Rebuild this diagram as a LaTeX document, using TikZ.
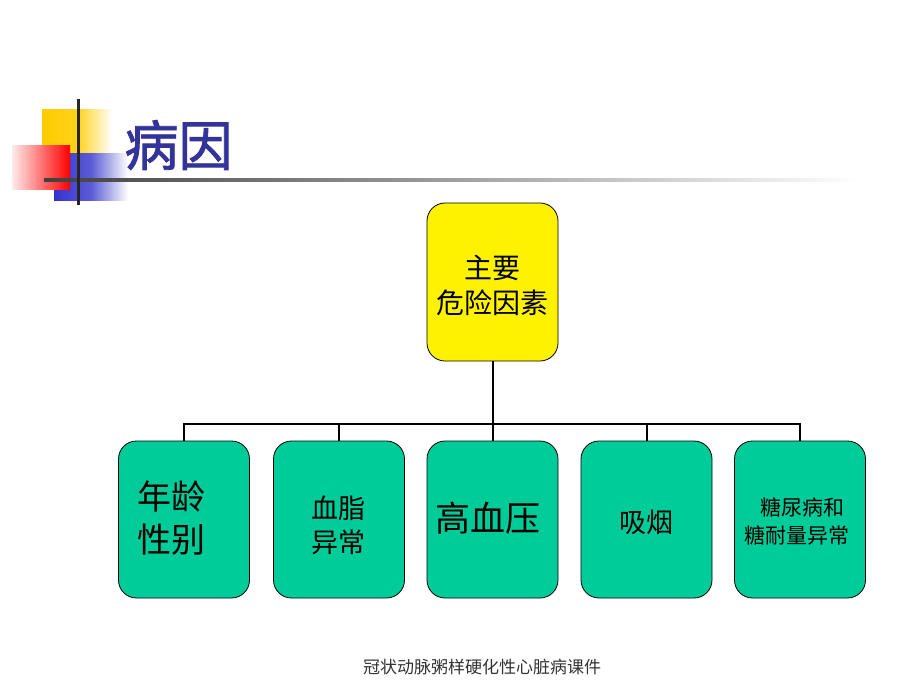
\documentclass[tikz,border=0pt]{standalone}
\usepackage{fontspec}
\newfontfamily\cjk[AutoFakeBold=1.6]{Noto Sans CJK SC}
\definecolor{titleblue}{HTML}{333399}
\definecolor{boxgreen}{HTML}{00CC99}
\definecolor{decoyellow}{HTML}{FFCC00}
\definecolor{decoblue}{HTML}{3333CC}
\tikzset{
  rbox/.style={draw=black, line width=0.8pt, rounded corners=18pt, minimum width=131pt, minimum height=157pt, inner sep=0pt},
  topbox/.style={rbox, fill=yellow, minimum height=158pt},
  leafbox/.style={rbox, fill=boxgreen},
  conn/.style={draw=black, line width=2pt},
  lbl/.style={align=center, text=black}
}
\begin{document}
\begin{tikzpicture}[x=1pt,y=-1pt]
\useasboundingbox (0,0) rectangle (920,690);
\fill[white] (0,0) rectangle (920,690);
% decoration
\shade[left color=decoyellow, right color=white, middle color=decoyellow!90] (42,110) rectangle (112,153);
\shade[left color=decoblue, right color=white, middle color=decoblue!80!white] (54,153) rectangle (128,200);
\shade[left color=red!8!white, right color=red] (12,145) rectangle (70,189);
\shade[left color=black!75, right color=white] (44,178.5) rectangle (862,181.5);
\fill[black!85] (77,99) rectangle (79.5,205);
% title
\node[font=\cjk\bfseries\fontsize{54}{60}\selectfont, text=titleblue, anchor=west] (title) at (121,145) {病因};
% boxes
\node[topbox] (top) at (492.5,282) {};
\node[lbl, font=\cjk\fontsize{28}{35}\selectfont] (toplbl) at (492.5,285) {主要\\危险因素};
\node[leafbox] (b1) at (184,519.5) {};
\node[leafbox] (b2) at (339,519.5) {};
\node[leafbox] (b3) at (492.5,519.5) {};
\node[leafbox] (b4) at (646.5,519.5) {};
\node[leafbox] (b5) at (800,519.5) {};
\node[lbl, font=\cjk\fontsize{34}{43}\selectfont, align=left] (t1) at (171,518) {年龄\\性别};
\node[lbl, font=\cjk\fontsize{27}{34}\selectfont] (t2) at (338,525) {血脂\\异常};
\node[lbl, font=\cjk\fontsize{35}{40}\selectfont] (t3) at (488,518) {高血压};
\node[lbl, font=\cjk\fontsize{27}{34}\selectfont] (t4) at (646,522) {吸烟};
\node[lbl, font=\cjk\fontsize{21}{28}\selectfont] (t5) at (797,522) {\hspace*{0.5em}糖尿病和\\糖耐量异常};
% connectors
\coordinate (bus) at (492.5,424);
\draw[conn] (top.south) -- (bus);
\draw[conn] (b1.north) -- (b1.north |- bus) -- (b5.north |- bus) -- (b5.north);
\draw[conn] (b2.north) -- (b2.north |- bus);
\draw[conn] (b3.north) -- (bus);
\draw[conn] (b4.north) -- (b4.north |- bus);
% footer
\node[font=\cjk\fontsize{17}{20}\selectfont, text=black!80] (footer) at (482,667) {冠状动脉粥样硬化性心脏病课件};
\end{tikzpicture}
\end{document}
